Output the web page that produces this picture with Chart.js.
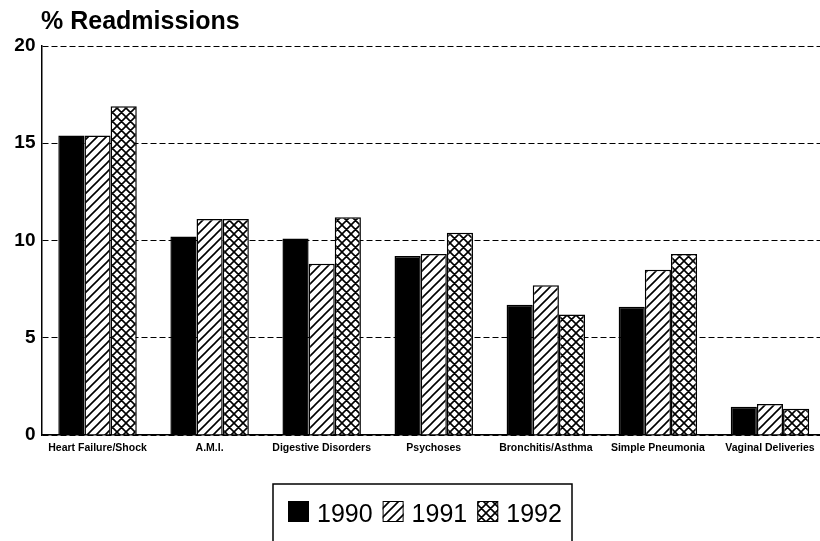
<!DOCTYPE html>
<html>
<head>
<meta charset="utf-8">
<script src="https://cdn.jsdelivr.net/npm/chart.js@4.4.1/dist/chart.umd.min.js"></script>
<style>
  html, body { margin: 0; padding: 0; background: #fff; overflow: hidden; }
  #wrap { width: 830px; height: 541px; }
</style>
</head>
<body>
<div id="wrap"><canvas id="readmitChart" width="830" height="541"></canvas></div>
<script>
// chart values
const categories = [
  "Heart Failure/Shock",
  "A.M.I.",
  "Digestive Disorders",
  "Psychoses",
  "Bronchitis/Asthma",
  "Simple Pneumonia",
  "Vaginal Deliveries",
];
const years = ["1990", "1991", "1992"];
const values1990 = [15.4, 10.2, 10.1, 9.2, 6.7, 6.6, 1.45];
const values1991 = [15.4, 11.1, 8.8, 9.3, 7.7, 8.5, 1.6];
const values1992 = [16.9, 11.1, 11.2, 10.4, 6.2, 9.3, 1.35];
const yTicks = [0, 5, 10, 15, 20];

const FONT = "'Liberation Sans', Arial, Helvetica, sans-serif";

// small tiles for the hatch fills
function makePattern(kind) {
  const size = 9;
  const c = document.createElement("canvas");
  c.width = size;
  c.height = size;
  const g = c.getContext("2d");
  g.fillStyle = "#fff";
  g.fillRect(0, 0, size, size);
  g.strokeStyle = "#000";
  g.lineWidth = 1.6;
  g.beginPath();
  // "/" lines
  g.moveTo(-2, size + 2); g.lineTo(size + 2, -2);
  g.moveTo(-2, 2); g.lineTo(2, -2);
  g.moveTo(size - 2, size + 2); g.lineTo(size + 2, size - 2);
  if (kind === "cross") {
    // "\" lines
    g.moveTo(-2, -2); g.lineTo(size + 2, size + 2);
    g.moveTo(-2, size - 2); g.lineTo(2, size + 2);
    g.moveTo(size - 2, -2); g.lineTo(size + 2, 2);
  }
  g.stroke();
  return g.createPattern(c, "repeat");
}

const diagFill = makePattern("diag");
const crossFill = makePattern("cross");
const fills = ["#000", diagFill, crossFill];

// title + boxed legend drawn on top of the chart
const framePlugin = {
  id: "frame",
  afterDraw(chart) {
    const ctx = chart.ctx;
    ctx.save();
    ctx.fillStyle = "#000";
    ctx.font = "bold 25px " + FONT;
    ctx.textBaseline = "alphabetic";
    ctx.textAlign = "left";
    ctx.fillText("% Readmissions", 41, 29);

    // legend box
    ctx.lineWidth = 1.5;
    ctx.strokeStyle = "#000";
    ctx.strokeRect(273, 484, 299, 70);

    ctx.font = "25px " + FONT;
    let x = 288;
    chart.data.datasets.forEach((ds) => {
      ctx.fillStyle = ds.backgroundColor;
      ctx.fillRect(x, 501, 21, 21);
      ctx.lineWidth = 1;
      ctx.strokeRect(x + 0.5, 501.5, 20, 20);
      ctx.fillStyle = "#000";
      ctx.fillText(ds.label, x + 29, 522);
      x += 29 + ctx.measureText(ds.label).width + 10;
    });
    ctx.restore();
  },
};

const ctx = document.getElementById("readmitChart").getContext("2d");
const myChart = new Chart(ctx, {
  type: "bar",
  data: {
    labels: categories,
    datasets: [values1990, values1991, values1992].map((vals, i) => ({
      label: years[i],
      data: vals,
      backgroundColor: fills[i],
      borderColor: "#000",
      borderWidth: 1.5,
      borderSkipped: "bottom",
      categoryPercentage: 0.7,
      barPercentage: 1.0,
    })),
  },
  options: {
    responsive: false,
    animation: false,
    layout: {
      padding: { top: 46, left: 0, right: 4, bottom: 88 },
    },
    scales: {
      x: {
        grid: { display: false, drawTicks: false },
        border: { display: true, color: "#000", width: 1.5 },
        ticks: {
          color: "#000",
          padding: 7,
          maxRotation: 0,
          autoSkip: false,
          font: { family: FONT, size: 10.5, weight: "bold" },
        },
        afterFit(scale) {
          scale.height = 18;
        },
      },
      y: {
        min: 0,
        max: 20,
        afterBuildTicks(scale) {
          scale.ticks = yTicks.map((v) => ({ value: v }));
        },
        grid: { color: "#000", lineWidth: 1, drawTicks: false },
        border: { display: true, color: "#000", width: 1.5, dash: [6, 3] },
        ticks: {
          color: "#000",
          padding: 6,
          font: { family: FONT, size: 19, weight: "bold" },
        },
        afterFit(scale) {
          scale.width = 41.5;
        },
      },
    },
    plugins: {
      legend: { display: false },
      title: { display: false },
      tooltip: { enabled: false },
    },
  },
  plugins: [framePlugin],
});
</script>
</body>
</html>
